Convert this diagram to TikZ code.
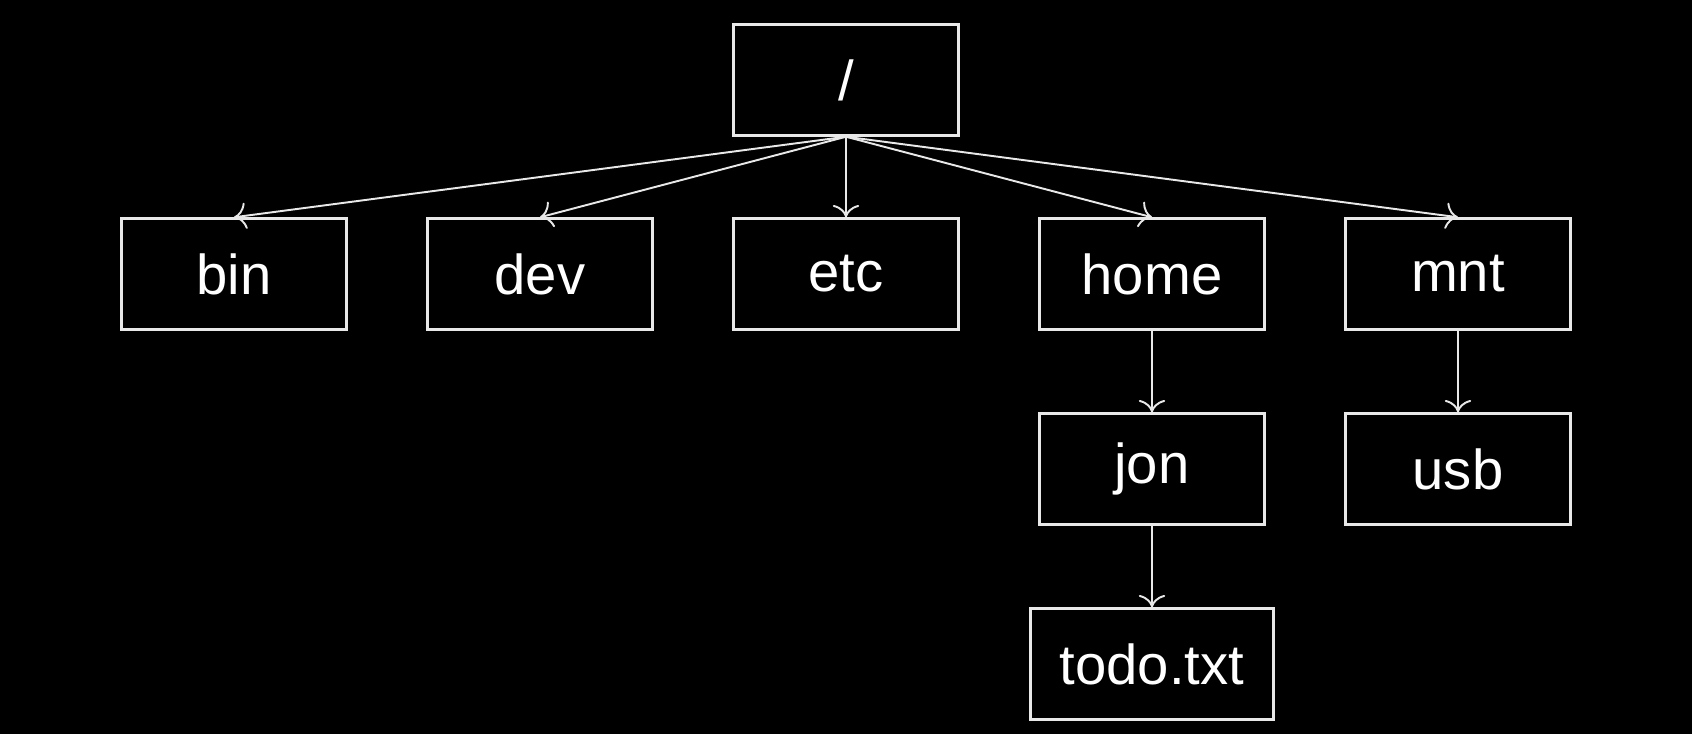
\documentclass[tikz,border=0pt]{standalone}
\usepackage{fontspec}
\setmainfont{Liberation Sans}
\usetikzlibrary{arrows.meta}
\definecolor{fg}{HTML}{E8E8E8}

\begin{document}
\begin{tikzpicture}[scale=1,
            dir/.style={draw=fg,line width=1.4pt,minimum width=4.5cm,minimum height=2.22cm,
                        text=white,font=\fontsize{32}{38}\selectfont,inner sep=0pt},
            link/.style={draw=fg,line width=1.1pt,-{To[length=7pt,width=15pt]}}]
            \fill[black] (0,0) rectangle (33.84,-14.68);
            \useasboundingbox (0,0) rectangle (33.84,-14.68);

            \node (root) at (16.92,-1.6) [dir] {/};

            \node (bin) at (4.68,-5.48) [dir] {bin};
            \node (dev) at (10.8,-5.48) [dir] {dev};
            \node (etc) at (16.92,-5.48) [dir] {etc};
            \node (home) at (23.04,-5.48) [dir] {home};
            \node (mnt) at (29.16,-5.48) [dir] {mnt};

            \node (jon) at (23.04,-9.38) [dir] {jon};
            \node (usb) at (29.16,-9.38) [dir] {usb};

            \node (todo) at (23.04,-13.28) [dir,minimum width=4.86cm] {todo.txt};

            \draw[link] (root.south) -- (bin.north);
            \draw[link] (root.south) -- (dev.north);
            \draw[link] (root.south) -- (etc.north);
            \draw[link] (root.south) -- (home.north);
            \draw[link] (root.south) -- (mnt.north);
            \draw[link] (home) -- (jon);
            \draw[link] (jon) -- (todo);
            \draw[link] (mnt) -- (usb);

        \end{tikzpicture}
\end{document}
